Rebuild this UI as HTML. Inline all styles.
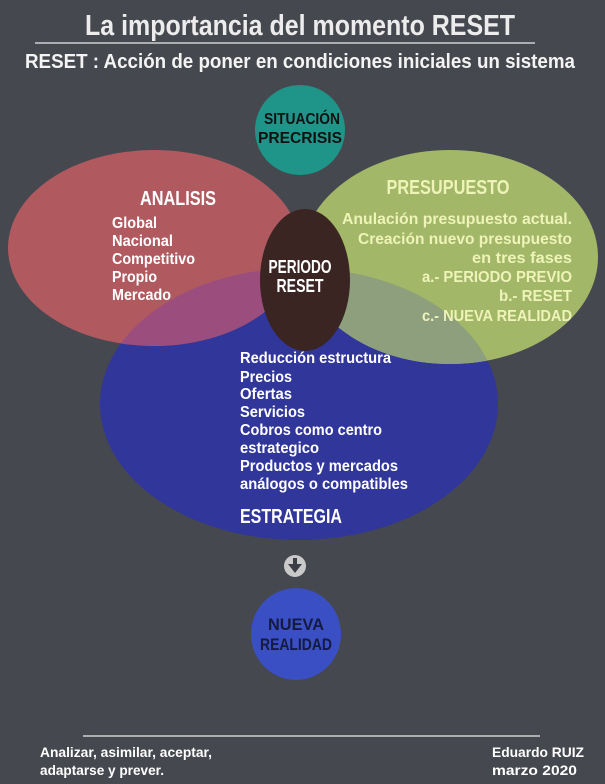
<!DOCTYPE html>
<html><head><meta charset="utf-8"><style>
html,body{margin:0;padding:0;background:#46484f;}
svg{display:block}
text{font-family:"Liberation Sans Narrow","Liberation Sans",sans-serif;font-weight:bold;}
</style></head><body>
<svg width="605" height="784" viewBox="0 0 605 784" xmlns="http://www.w3.org/2000/svg">
<defs>
<clipPath id="cb"><ellipse cx="299" cy="404" rx="199" ry="136"/></clipPath>
</defs>
<rect width="605" height="784" fill="#46484f"/>
<text x="300" y="35" font-size="29" fill="#ececec" text-anchor="middle" textLength="430" lengthAdjust="spacingAndGlyphs">La importancia del momento  RESET</text>
<line x1="35" y1="43" x2="535" y2="43" stroke="#cfcfcf" stroke-width="1.5"/>
<text x="300" y="68" font-size="20" fill="#f4f4f4" text-anchor="middle" textLength="550" lengthAdjust="spacingAndGlyphs">RESET : Acción de poner en condiciones iniciales un sistema</text>

<circle cx="300" cy="130" r="45" fill="#1f9488"/>
<text x="302" y="124" font-size="16" fill="#111" text-anchor="middle" textLength="76" lengthAdjust="spacingAndGlyphs">SITUACIÓN</text>
<text x="300" y="143" font-size="16" fill="#111" text-anchor="middle" textLength="84" lengthAdjust="spacingAndGlyphs">PRECRISIS</text>

<ellipse cx="299" cy="404" rx="199" ry="136" fill="#30369a"/>
<ellipse cx="154" cy="248" rx="146" ry="98" fill="#b05a60"/>
<ellipse cx="450" cy="257" rx="148" ry="107" fill="#a2b767"/>
<g clip-path="url(#cb)">
<ellipse cx="154" cy="248" rx="146" ry="98" fill="#9b4e7d"/>
<ellipse cx="450" cy="257" rx="148" ry="107" fill="#8d9f7d"/>
</g>
<ellipse cx="305" cy="280" rx="45" ry="71" fill="#3a2523"/>

<text x="178" y="205" font-size="20" fill="#fff" text-anchor="middle" textLength="76" lengthAdjust="spacingAndGlyphs">ANALISIS</text>
<g font-size="16" fill="#fff">
<text x="112" y="228" textLength="45" lengthAdjust="spacingAndGlyphs">Global</text>
<text x="112" y="246" textLength="61" lengthAdjust="spacingAndGlyphs">Nacional</text>
<text x="112" y="264" textLength="83" lengthAdjust="spacingAndGlyphs">Competitivo</text>
<text x="112" y="282" textLength="45" lengthAdjust="spacingAndGlyphs">Propio</text>
<text x="112" y="300" textLength="59" lengthAdjust="spacingAndGlyphs">Mercado</text>
</g>

<text x="448" y="194" font-size="20" fill="#eef3b8" text-anchor="middle" textLength="123" lengthAdjust="spacingAndGlyphs">PRESUPUESTO</text>
<g font-size="16" fill="#eef3b8" text-anchor="end">
<text x="572" y="224" textLength="230" lengthAdjust="spacingAndGlyphs">Anulación presupuesto actual.</text>
<text x="572" y="244" textLength="214" lengthAdjust="spacingAndGlyphs">Creación nuevo presupuesto</text>
<text x="572" y="263" textLength="100" lengthAdjust="spacingAndGlyphs">en tres fases</text>
<text x="572" y="282" textLength="150" lengthAdjust="spacingAndGlyphs">a.- PERIODO PREVIO</text>
<text x="572" y="301" textLength="73" lengthAdjust="spacingAndGlyphs">b.- RESET</text>
<text x="572" y="321" textLength="150" lengthAdjust="spacingAndGlyphs">c.- NUEVA REALIDAD</text>
</g>

<text x="300" y="273" font-size="18" fill="#fff" text-anchor="middle" textLength="63" lengthAdjust="spacingAndGlyphs">PERIODO</text>
<text x="300" y="292" font-size="18" fill="#fff" text-anchor="middle" textLength="47" lengthAdjust="spacingAndGlyphs">RESET</text>

<g font-size="16" fill="#fff">
<text x="240" y="363" textLength="151" lengthAdjust="spacingAndGlyphs">Reducción estructura</text>
<text x="240" y="382" textLength="52" lengthAdjust="spacingAndGlyphs">Precios</text>
<text x="240" y="399" textLength="52" lengthAdjust="spacingAndGlyphs">Ofertas</text>
<text x="240" y="417" textLength="65" lengthAdjust="spacingAndGlyphs">Servicios</text>
<text x="240" y="435" textLength="142" lengthAdjust="spacingAndGlyphs">Cobros como centro</text>
<text x="240" y="453" textLength="79" lengthAdjust="spacingAndGlyphs">estrategico</text>
<text x="240" y="471" textLength="158" lengthAdjust="spacingAndGlyphs">Productos y mercados</text>
<text x="240" y="489" textLength="168" lengthAdjust="spacingAndGlyphs">análogos o compatibles</text>
</g>
<text x="240" y="523" font-size="20" fill="#fff" textLength="102" lengthAdjust="spacingAndGlyphs">ESTRATEGIA</text>

<circle cx="295" cy="566" r="11" fill="#c9c9c9"/>
<rect x="293" y="558" width="4" height="8" fill="#3b3d44"/>
<polygon points="288,564 302,564 295,573" fill="#3b3d44"/>

<ellipse cx="296" cy="634" rx="45" ry="46" fill="#3a4fc4"/>
<text x="296" y="630" font-size="17" fill="#141a40" text-anchor="middle" textLength="56" lengthAdjust="spacingAndGlyphs">NUEVA</text>
<text x="296" y="650" font-size="17" fill="#141a40" text-anchor="middle" textLength="72" lengthAdjust="spacingAndGlyphs">REALIDAD</text>

<line x1="83" y1="736" x2="540" y2="736" stroke="#cfcfcf" stroke-width="1.5"/>
<g font-size="14" fill="#fff">
<text x="40" y="757" textLength="172" lengthAdjust="spacingAndGlyphs">Analizar, asimilar, aceptar,</text>
<text x="40" y="775" textLength="124" lengthAdjust="spacingAndGlyphs">adaptarse y prever.</text>
<text x="492" y="757" textLength="92" lengthAdjust="spacingAndGlyphs">Eduardo RUIZ</text>
<text x="492" y="775" textLength="85" lengthAdjust="spacingAndGlyphs">marzo 2020</text>
</g>
</svg>
</body></html>
